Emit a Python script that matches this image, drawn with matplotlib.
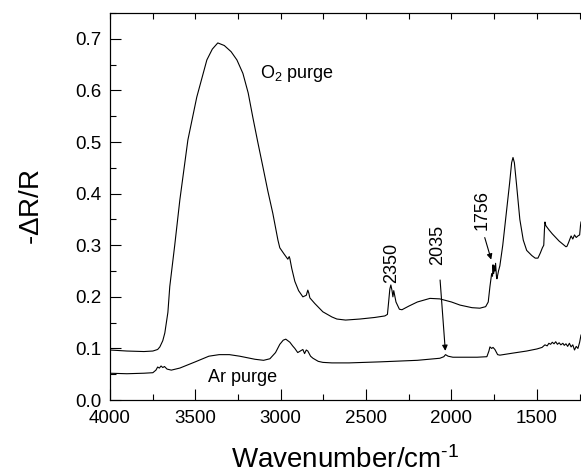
import matplotlib.pyplot as plt
from matplotlib.ticker import MultipleLocator

plt.rcParams['font.family'] = ['Liberation Sans', 'DejaVu Sans']
plt.rcParams['mathtext.fontset'] = 'custom'
plt.rcParams['mathtext.rm'] = 'Liberation Sans'
plt.rcParams['mathtext.it'] = 'Liberation Sans:italic'

# O2 purge spectrum (wavenumber, -dR/R)
o2_wn = [4000, 3900, 3800, 3748, 3720, 3707, 3690, 3678, 3660, 3649, 3620, 3590,
         3543, 3491, 3432, 3400, 3368, 3330, 3290, 3256, 3221, 3190, 3163, 3134,
         3104, 3075, 3046, 3016, 3005, 2980, 2958, 2950, 2946, 2935, 2917, 2895,
         2870, 2850, 2841, 2835, 2829, 2800, 2753, 2700, 2671, 2620, 2536, 2450,
         2390, 2375, 2368, 2361, 2355, 2348, 2343, 2338, 2325, 2305, 2290, 2250,
         2200, 2126, 2068, 2000, 1950, 1880, 1834, 1800, 1785, 1775, 1765, 1760,
         1757, 1753, 1749, 1746, 1742, 1737, 1734, 1725, 1717, 1700, 1680, 1660,
         1648, 1640, 1632, 1620, 1600, 1580, 1560, 1530, 1510, 1494, 1480, 1468,
         1460, 1456, 1453, 1448, 1430, 1410, 1390, 1370, 1348, 1330, 1324, 1315,
         1300, 1290, 1280, 1270, 1260, 1250, 1245, 1242]
o2_val = [0.097, 0.095, 0.094, 0.095, 0.098, 0.103, 0.115, 0.13, 0.17, 0.22, 0.3, 0.388,
          0.504, 0.587, 0.659, 0.68, 0.692, 0.687, 0.675, 0.659, 0.633, 0.595, 0.548, 0.5,
          0.452, 0.405, 0.362, 0.31, 0.295, 0.283, 0.273, 0.278, 0.274, 0.255, 0.23, 0.212,
          0.2, 0.203, 0.213, 0.207, 0.198, 0.187, 0.171, 0.161, 0.157, 0.155, 0.157, 0.16,
          0.163, 0.166, 0.19, 0.215, 0.223, 0.212, 0.2, 0.212, 0.19, 0.176, 0.175, 0.182,
          0.19, 0.197, 0.196, 0.19, 0.184, 0.179, 0.178, 0.181, 0.19, 0.22, 0.245, 0.24,
          0.262, 0.245, 0.26, 0.25, 0.265, 0.24, 0.235, 0.25, 0.26, 0.3, 0.36, 0.42,
          0.46, 0.47, 0.46, 0.42, 0.35, 0.31, 0.29, 0.28, 0.275, 0.275, 0.285, 0.295,
          0.3, 0.33, 0.345, 0.338, 0.33, 0.322, 0.315, 0.308, 0.302, 0.297, 0.298, 0.305,
          0.318, 0.312, 0.32, 0.315, 0.318, 0.32, 0.338, 0.345]

# Ar purge spectrum
ar_wn = [4000, 3900, 3800, 3748, 3730, 3720, 3710, 3700, 3690, 3680, 3665, 3640,
         3590, 3500, 3420, 3360, 3300, 3240, 3150, 3100, 3063, 3030, 3005, 2985,
         2970, 2958, 2946, 2930, 2917, 2900, 2885, 2870, 2860, 2850, 2841, 2825,
         2811, 2780, 2753, 2700, 2600, 2419, 2200, 2068, 2045, 2035, 2020, 1992,
         1850, 1793, 1781, 1775, 1765, 1757, 1746, 1730, 1717, 1640, 1560, 1500,
         1470, 1453, 1440, 1430, 1420, 1410, 1400, 1390, 1380, 1370, 1360, 1348,
         1340, 1330, 1320, 1310, 1300, 1290, 1280, 1270, 1260, 1250, 1242]
ar_val = [0.052, 0.051, 0.052, 0.053, 0.058, 0.064, 0.062, 0.066, 0.063, 0.065, 0.06, 0.058,
          0.062, 0.074, 0.085, 0.088, 0.088, 0.085, 0.079, 0.077, 0.08, 0.092, 0.108, 0.116,
          0.118, 0.115, 0.112, 0.105, 0.1, 0.092, 0.095, 0.098, 0.09, 0.097, 0.095, 0.085,
          0.081, 0.075, 0.073, 0.072, 0.072, 0.074, 0.077, 0.081, 0.084, 0.088, 0.085, 0.083,
          0.083, 0.084, 0.095, 0.103, 0.1, 0.102, 0.098, 0.088, 0.087, 0.091, 0.095, 0.099,
          0.102, 0.107, 0.105, 0.11, 0.108, 0.112, 0.109, 0.113, 0.108, 0.111, 0.107, 0.11,
          0.106, 0.109, 0.104, 0.11, 0.103, 0.107, 0.097, 0.104, 0.1, 0.112, 0.126]

fig = plt.figure(figsize=(5.81, 4.74), dpi=100)
ax = fig.add_axes([0.189, 0.156, 0.811, 0.8166])

ax.plot(o2_wn, o2_val, color='black', lw=0.8)
ax.plot(ar_wn, ar_val, color='black', lw=0.8)

ax.set_xlim(4000, 1242)
ax.set_ylim(0, 0.75)
ax.xaxis.set_major_locator(MultipleLocator(500))
ax.xaxis.set_minor_locator(MultipleLocator(250))
ax.yaxis.set_major_locator(MultipleLocator(0.1))
ax.yaxis.set_minor_locator(MultipleLocator(0.05))
ax.yaxis.set_major_formatter(plt.FormatStrFormatter('%.1f'))
ax.tick_params(which='major', direction='in', length=8, width=0.8, labelsize=13.5)
ax.tick_params(which='minor', direction='in', length=4, width=0.8)
ax.tick_params(axis='x', pad=7)
ax.tick_params(axis='y', pad=6)
ax.spines['right'].set_visible(False)

top = ax.twiny()
top.set_xlim(ax.get_xlim())
top.xaxis.set_major_locator(MultipleLocator(250))
top.tick_params(direction='in', length=4, width=0.8, labeltop=False)
top.spines['right'].set_visible(False)

ax.set_xlabel('Wavenumber/cm$^{\\text{-1}}$', fontsize=20, labelpad=14)
ax.set_ylabel(r'-$\Delta$R/R', fontsize=20, labelpad=22)

ax.text(3122, 0.632, 'O$_\\mathregular{2}$ purge', fontsize=13, va='center', ha='left')
ax.text(3426, 0.043, 'Ar purge', fontsize=13, va='center', ha='left')
ax.text(2349, 0.226, '2350', rotation=90, fontsize=13, ha='center', va='bottom')
ax.text(2082, 0.262, '2035', rotation=90, fontsize=13, ha='center', va='bottom')
ax.text(1822, 0.33, '1756', rotation=90, fontsize=13, ha='center', va='bottom')
ax.annotate('', xy=(2035, 0.09), xytext=(2068, 0.238),
            arrowprops=dict(arrowstyle='-|>', color='black', lw=0.8, mutation_scale=8))
ax.annotate('', xy=(1763, 0.267), xytext=(1810, 0.32),
            arrowprops=dict(arrowstyle='-|>', color='black', lw=0.8, mutation_scale=8))

fig.savefig('out.png', dpi=100)
